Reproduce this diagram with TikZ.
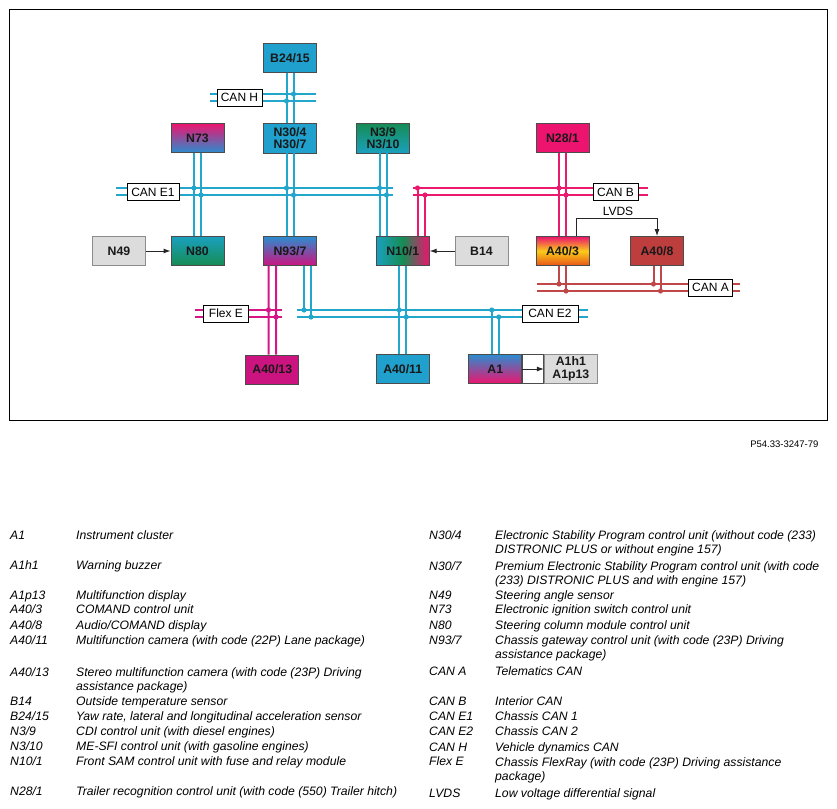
\documentclass[tikz,border=0pt]{standalone}
\usepackage{fontspec}
\setmainfont{Liberation Sans}
\usetikzlibrary{arrows.meta, positioning, calc}
\definecolor{busblue}{RGB}{34,166,204}
\definecolor{buspink}{RGB}{236,24,110}
\definecolor{busred}{RGB}{192,72,72}
\definecolor{busmag}{RGB}{214,22,132}
\definecolor{ecublue}{RGB}{32,160,204}
\definecolor{ecublueb}{RGB}{44,140,206}
\definecolor{ecuteal}{RGB}{26,160,190}
\definecolor{ecugreen}{RGB}{22,140,84}
\definecolor{ecupink}{RGB}{236,20,110}
\definecolor{ecumag}{RGB}{204,20,128}
\definecolor{ecured}{RGB}{190,62,62}
\definecolor{ecuyellow}{RGB}{250,204,24}
\definecolor{ecuorange}{RGB}{232,84,24}
\definecolor{ecugrey}{RGB}{220,220,220}
\tikzset{
    ecu/.style = {draw=black!70, line width=0.8pt, minimum width=53pt, minimum height=29pt,
                  inner sep=0pt, align=center, text=black!90,
                  font=\bfseries\fontsize{12.3}{12.5}\selectfont}, % control unit box
    sensor/.style = {ecu, draw=black!45, fill=ecugrey}, % grey boxes
    buslabel/.style = {draw=black, fill=white, line width=0.8pt, minimum height=17pt,
                  inner sep=1.5pt, font=\fontsize{12}{12}\selectfont},
    bluebus/.style = {draw=busblue, line width=2pt},
    pinkbus/.style = {draw=buspink, line width=2pt},
    redbus/.style = {draw=busred, line width=2pt},
    flexbus/.style = {draw=busmag, line width=2pt},
    sig/.style = {-{Latex[length=7pt,width=5pt]}, line width=1pt, draw=black!85},
    key/.style = {anchor=base west, inner sep=0pt, align=left,
                  font=\itshape\fontsize{12.2}{14.2}\selectfont} % two-line texts sit on their last line
}
\begin{document}
\begin{tikzpicture}[x=1pt, y=-1pt]
\useasboundingbox (0,0) rectangle (837,808);
\draw[line width=0.9pt] (9,9) rectangle (827,420);

% control units
\node[ecu, fill=ecublue] (b2415) at (290,58) {B24/15};
\node[ecu, fill=ecublue, minimum height=30pt] (n304) at (290,138) {N30/4\\N30/7};
\node[ecu, top color=ecupink, bottom color=ecublueb] (n73) at (197.5,138) {N73};
\node[ecu, top color=ecugreen, bottom color=ecuteal, minimum height=30pt] (n39) at (383,138) {N3/9\\N3/10};
\node[ecu, fill=ecupink] (n281) at (562.5,138) {N28/1};
\node[sensor] (n49) at (119,251) {N49};
\node[ecu, top color=ecuteal, bottom color=ecugreen] (n80) at (197.5,251) {N80};
\node[ecu, top color=ecublueb, bottom color=ecumag] (n937) at (290,251) {N93/7};
\node[ecu, left color=ecuteal, right color=ecupink, middle color=ecugreen] (n101) at (402.75,251) {N10/1};
\node[sensor] (b14) at (481.5,251) {B14};
\node[ecu, top color=ecupink, bottom color=ecuorange, middle color=ecuyellow] (a403) at (562.5,251) {A40/3};
\node[ecu, fill=ecured] (a408) at (657,251) {A40/8};
\node[ecu, fill=ecumag] (a4013) at (272.3,369.5) {A40/13};
\node[ecu, fill=ecublue] (a4011) at (402.75,369) {A40/11};
\node[ecu, top color=ecublueb, bottom color=ecupink] (a1) at (495.25,369) {A1};
\node[ecu, fill=white, minimum width=21pt, right=0pt of a1] (a1gap) {};
\node[sensor, right=0pt of a1gap] (a1h1) {A1h1\\A1p13};

% bus ends
\coordinate (canH1) at (210,94);   \coordinate (canH2) at (316,94);
\coordinate (canH3) at (210,101);  \coordinate (canH4) at (316,101);
\coordinate (canE1a) at (116,188); \coordinate (canE1b) at (393,188);
\coordinate (canE1c) at (116,195); \coordinate (canE1d) at (393,195);
\coordinate (canB1) at (413,188);  \coordinate (canB2) at (648,188);
\coordinate (canB3) at (413,195);  \coordinate (canB4) at (648,195);
\coordinate (canA1) at (537,284);  \coordinate (canA2) at (740,284);
\coordinate (canA3) at (537,291);  \coordinate (canA4) at (740,291);
\coordinate (flex1) at (195,310);  \coordinate (flex2) at (282,310);
\coordinate (flex3) at (195,317);  \coordinate (flex4) at (282,317);
\coordinate (canE2a) at (297,310); \coordinate (canE2b) at (588,310);
\coordinate (canE2c) at (297,317); \coordinate (canE2d) at (588,317);

\draw[bluebus] (canH1) -- (canH2) (canH3) -- (canH4);
\draw[bluebus] (canE1a) -- (canE1b) (canE1c) -- (canE1d);
\draw[pinkbus] (canB1) -- (canB2) (canB3) -- (canB4);
\draw[redbus] (canA1) -- (canA2) (canA3) -- (canA4);
\draw[flexbus] (flex1) -- (flex2) (flex3) -- (flex4);
\draw[bluebus] (canE2a) -- (canE2b) (canE2c) -- (canE2d);

% links
\draw[bluebus] ([xshift=-3.5pt]b2415.south) -- ([xshift=-3.5pt]n304.north)
               ([xshift=3.5pt]b2415.south) -- ([xshift=3.5pt]n304.north);
\draw[bluebus] ([xshift=-3.5pt]n304.south) -- ([xshift=-3.5pt]n937.north)
               ([xshift=3.5pt]n304.south) -- ([xshift=3.5pt]n937.north);
\draw[bluebus] ([xshift=-3.5pt]n73.south) -- ([xshift=-3.5pt]n80.north)
               ([xshift=3.5pt]n73.south) -- ([xshift=3.5pt]n80.north);
\draw[bluebus] ([xshift=-3.5pt]n39.south) -- ([xshift=-23.25pt]n101.north)
               ([xshift=3.5pt]n39.south) -- ([xshift=-16.25pt]n101.north);
\draw[bluebus] ([xshift=-3.5pt]n101.south) -- ([xshift=-3.5pt]a4011.north)
               ([xshift=3.5pt]n101.south) -- ([xshift=3.5pt]a4011.north);
\draw[bluebus] ([xshift=14pt]n937.south) -- ([xshift=14pt]n937.south |- canE2a)
               ([xshift=21pt]n937.south) -- ([xshift=21pt]n937.south |- canE2c);
\draw[bluebus] ([xshift=-3.5pt]a1.north |- canE2a) -- ([xshift=-3.5pt]a1.north)
               ([xshift=3.5pt]a1.north |- canE2c) -- ([xshift=3.5pt]a1.north);
\draw[pinkbus] ([xshift=14.75pt]n101.north) -- ([xshift=14.75pt]n101.north |- canB1)
               ([xshift=22.25pt]n101.north) -- ([xshift=22.25pt]n101.north |- canB3);
\draw[pinkbus] ([xshift=-3.5pt]n281.south) -- ([xshift=-3.5pt]a403.north)
               ([xshift=3.5pt]n281.south) -- ([xshift=3.5pt]a403.north);
\draw[redbus] ([xshift=-3.5pt]a403.south) -- ([xshift=-3.5pt]a403.south |- canA1)
              ([xshift=3.5pt]a403.south) -- ([xshift=3.5pt]a403.south |- canA3);
\draw[redbus] ([xshift=-3.5pt]a408.south) -- ([xshift=-3.5pt]a408.south |- canA1)
              ([xshift=3.5pt]a408.south) -- ([xshift=3.5pt]a408.south |- canA3);
\draw[flexbus] ([xshift=-21.5pt]n937.south) -- ([xshift=-3.8pt]a4013.north)
               ([xshift=-14pt]n937.south) -- ([xshift=3.8pt]a4013.north);

% taps
\fill[busblue] (293.5,94) circle[radius=2.6pt] (286.5,101) circle[radius=2.6pt]
    (194,188) circle[radius=2.6pt] (201,195) circle[radius=2.6pt]
    (286.5,188) circle[radius=2.6pt] (293.5,195) circle[radius=2.6pt]
    (379.5,188) circle[radius=2.6pt] (386.5,195) circle[radius=2.6pt]
    (304,310) circle[radius=2.6pt] (311,317) circle[radius=2.6pt]
    (399.25,310) circle[radius=2.6pt] (406.25,317) circle[radius=2.6pt]
    (491.75,310) circle[radius=2.6pt] (498.75,317) circle[radius=2.6pt];
\fill[buspink] (417.5,188) circle[radius=2.6pt] (425,195) circle[radius=2.6pt]
    (559,188) circle[radius=2.6pt] (566,195) circle[radius=2.6pt];
\fill[busred] (559,284) circle[radius=2.6pt] (566,291) circle[radius=2.6pt]
    (653.5,284) circle[radius=2.6pt] (660.5,291) circle[radius=2.6pt];
\fill[busmag] (268.5,310) circle[radius=2.6pt] (276,317) circle[radius=2.6pt];

% bus names
\node[buslabel, minimum width=45pt] (lblH) at (239.5,97.5) {CAN H};
\node[buslabel, minimum width=52pt] (lblE1) at (153,192) {CAN E1};
\node[buslabel, minimum width=45pt] (lblB) at (615.5,192) {CAN B};
\node[buslabel, minimum width=44pt] (lblA) at (710.5,287.5) {CAN A};
\node[buslabel, minimum width=45pt] (lblF) at (226,313.5) {Flex E};
\node[buslabel, minimum width=56pt] (lblE2) at (550,313.5) {CAN E2};

% signals
\draw[sig] (n49) -- (n80);
\draw[sig] (b14) -- (n101);
\draw[sig] (a1) -- (a1h1);
\draw[sig] ([xshift=13.5pt]a403.north) |- ([yshift=18pt]a408.north) -- (a408.north);
\node[font=\fontsize{12}{12}\selectfont] (lvds) at (618,211) {LVDS};

\node[anchor=base east, font=\fontsize{9.5}{10}\selectfont] (figno) at (822,447) {P54.33-3247-79};

% legend, left
\node[key] (kA1) at (10,539) {A1};        \node[key] (tA1) at (76,539) {Instrument cluster};
\node[key] (kA1h1) at (10,569.5) {A1h1};  \node[key] (tA1h1) at (76,569.5) {Warning buzzer};
\node[key] (kA1p13) at (10,599.5) {A1p13}; \node[key] (tA1p13) at (76,599.5) {Multifunction display};
\node[key] (kA403) at (10,613.5) {A40/3}; \node[key] (tA403) at (76,613.5) {COMAND control unit};
\node[key] (kA408) at (10,629) {A40/8};   \node[key] (tA408) at (76,629) {Audio/COMAND display};
\node[key] (kA4011) at (10,644.5) {A40/11}; \node[key] (tA4011) at (76,644.5) {Multifunction camera (with code (22P) Lane package)};
\node[key] (kA4013) at (10,676) {A40/13}; \node[key] (tA4013) at (76,690.2) {Stereo multifunction camera (with code (23P) Driving\\assistance package)};
\node[key] (kB14) at (10,705.5) {B14};    \node[key] (tB14) at (76,705.5) {Outside temperature sensor};
\node[key] (kB2415) at (10,720.5) {B24/15}; \node[key] (tB2415) at (76,720.5) {Yaw rate, lateral and longitudinal acceleration sensor};
\node[key] (kN39) at (10,735.5) {N3/9};   \node[key] (tN39) at (76,735.5) {CDI control unit (with diesel engines)};
\node[key] (kN310) at (10,750.5) {N3/10}; \node[key] (tN310) at (76,750.5) {ME-SFI control unit (with gasoline engines)};
\node[key] (kN101) at (10,765.5) {N10/1}; \node[key] (tN101) at (76,765.5) {Front SAM control unit with fuse and relay module};
\node[key] (kN281) at (10,795.5) {N28/1}; \node[key] (tN281) at (76,795.5) {Trailer recognition control unit (with code (550) Trailer hitch)};

% legend, right
\node[key] (kN304) at (429,539) {N30/4};  \node[key] (tN304) at (495,553.2) {Electronic Stability Program control unit (without code (233)\\DISTRONIC PLUS or without engine 157)};
\node[key] (kN307) at (429,570.5) {N30/7}; \node[key] (tN307) at (495,584.7) {Premium Electronic Stability Program control unit (with code\\(233) DISTRONIC PLUS and with engine 157)};
\node[key] (kN49) at (429,599.5) {N49};   \node[key] (tN49) at (495,599.5) {Steering angle sensor};
\node[key] (kN73) at (429,613.5) {N73};   \node[key] (tN73) at (495,613.5) {Electronic ignition switch control unit};
\node[key] (kN80) at (429,629) {N80};     \node[key] (tN80) at (495,629) {Steering column module control unit};
\node[key] (kN937) at (429,644.5) {N93/7}; \node[key] (tN937) at (495,658.7) {Chassis gateway control unit (with code (23P) Driving\\assistance package)};
\node[key] (kCANA) at (429,675) {CAN A};  \node[key] (tCANA) at (495,675) {Telematics CAN};
\node[key] (kCANB) at (429,705.5) {CAN B}; \node[key] (tCANB) at (495,705.5) {Interior CAN};
\node[key] (kCANE1) at (429,720.5) {CAN E1}; \node[key] (tCANE1) at (495,720.5) {Chassis CAN 1};
\node[key] (kCANE2) at (429,735.5) {CAN E2}; \node[key] (tCANE2) at (495,735.5) {Chassis CAN 2};
\node[key] (kCANH) at (429,751) {CAN H};  \node[key] (tCANH) at (495,751) {Vehicle dynamics CAN};
\node[key] (kFlex) at (429,765.5) {Flex E}; \node[key] (tFlex) at (495,780.2) {Chassis FlexRay (with code (23P) Driving assistance\\package)};
\node[key] (kLVDS) at (429,797) {LVDS};   \node[key] (tLVDS) at (495,797) {Low voltage differential signal};
\end{tikzpicture}
\end{document}
